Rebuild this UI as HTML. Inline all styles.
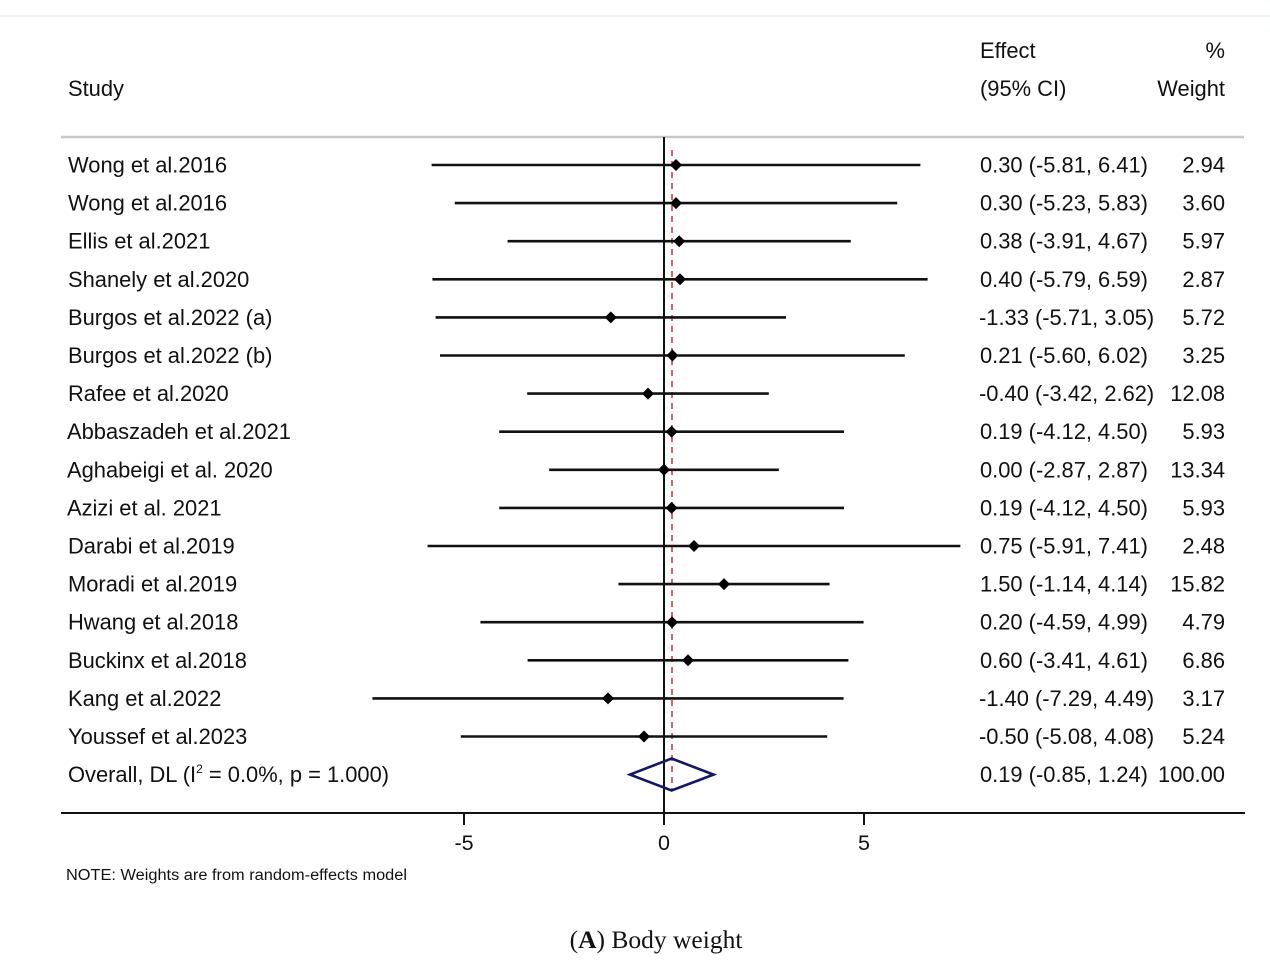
<!DOCTYPE html>
<html>
<head>
<meta charset="utf-8">
<style>
html,body{margin:0;padding:0;background:#fff;}
svg{display:block;}
text{font-family:"Liberation Sans",Arial,sans-serif;fill:#111;}
</style>
</head>
<body>
<svg width="1270" height="964" viewBox="0 0 1270 964" xmlns="http://www.w3.org/2000/svg">
<rect width="1270" height="964" fill="#fff"/>
<line x1="0" y1="16" x2="1270" y2="16" stroke="#e6f2f2" stroke-width="1.5"/>

<!-- headers -->
<g font-size="21.9">
<text x="68" y="96">Study</text>
<text x="980" y="58">Effect</text>
<text x="980" y="96">(95% CI)</text>
<text x="1225" y="58" text-anchor="end">%</text>
<text x="1225" y="96" text-anchor="end">Weight</text>
</g>

<line x1="61" y1="137" x2="1244" y2="137" stroke="#c8c8c8" stroke-width="2.5"/>

<!-- zero line -->
<line x1="664" y1="137" x2="664" y2="813" stroke="#111" stroke-width="2"/>
<!-- overall dashed -->
<line x1="672" y1="150" x2="672" y2="790" stroke="#c0404a" stroke-width="1.6" stroke-dasharray="6,5"/>

<!-- CI lines and markers -->
<g stroke="#111" stroke-width="2.6">
<line x1="431.6" y1="165" x2="920.4" y2="165"/>
<line x1="454.8" y1="203.1" x2="897.2" y2="203.1"/>
<line x1="507.6" y1="241.2" x2="850.8" y2="241.2"/>
<line x1="432.4" y1="279.3" x2="927.6" y2="279.3"/>
<line x1="435.6" y1="317.4" x2="786" y2="317.4"/>
<line x1="440" y1="355.5" x2="904.8" y2="355.5"/>
<line x1="527.2" y1="393.6" x2="768.8" y2="393.6"/>
<line x1="499.2" y1="431.7" x2="844" y2="431.7"/>
<line x1="549.2" y1="469.8" x2="778.8" y2="469.8"/>
<line x1="499.2" y1="507.9" x2="844" y2="507.9"/>
<line x1="427.6" y1="546" x2="960.4" y2="546"/>
<line x1="618.4" y1="584.1" x2="829.6" y2="584.1"/>
<line x1="480.4" y1="622.2" x2="863.6" y2="622.2"/>
<line x1="527.6" y1="660.3" x2="848.4" y2="660.3"/>
<line x1="372.4" y1="698.4" x2="843.6" y2="698.4"/>
<line x1="460.8" y1="736.5" x2="827.2" y2="736.5"/>
</g>
<g fill="#000">
<polygon points="676,159 682,165 676,171 670,165"/>
<polygon points="676,197.1 682,203.1 676,209.1 670,203.1"/>
<polygon points="679.2,235.2 685.2,241.2 679.2,247.2 673.2,241.2"/>
<polygon points="680,273.3 686,279.3 680,285.3 674,279.3"/>
<polygon points="610.8,311.4 616.8,317.4 610.8,323.4 604.8,317.4"/>
<polygon points="672.4,349.5 678.4,355.5 672.4,361.5 666.4,355.5"/>
<polygon points="648,387.6 654,393.6 648,399.6 642,393.6"/>
<polygon points="671.6,425.7 677.6,431.7 671.6,437.7 665.6,431.7"/>
<polygon points="664,463.8 670,469.8 664,475.8 658,469.8"/>
<polygon points="671.6,501.9 677.6,507.9 671.6,513.9 665.6,507.9"/>
<polygon points="694,540 700,546 694,552 688,546"/>
<polygon points="724,578.1 730,584.1 724,590.1 718,584.1"/>
<polygon points="672,616.2 678,622.2 672,628.2 666,622.2"/>
<polygon points="688,654.3 694,660.3 688,666.3 682,660.3"/>
<polygon points="608,692.4 614,698.4 608,704.4 602,698.4"/>
<polygon points="644,730.5 650,736.5 644,742.5 638,736.5"/>
</g>

<!-- overall diamond -->
<polygon points="630,774.6 671.6,758.5 713.6,774.6 671.6,790.5" fill="none" stroke="#14146e" stroke-width="2.6" stroke-linejoin="miter"/>

<!-- axis -->
<line x1="61" y1="813" x2="1245" y2="813" stroke="#111" stroke-width="2"/>
<g stroke="#111" stroke-width="2">
<line x1="464" y1="813" x2="464" y2="825"/>
<line x1="664" y1="813" x2="664" y2="825"/>
<line x1="864" y1="813" x2="864" y2="825"/>
</g>
<g font-size="21.5" text-anchor="middle">
<text x="464" y="850">-5</text>
<text x="664" y="850">0</text>
<text x="864" y="850">5</text>
</g>

<!-- study labels -->
<g font-size="21.9">
<text x="68" y="172.5">Wong et al.2016</text>
<text x="68" y="210.6">Wong et al.2016</text>
<text x="68" y="248.7">Ellis et al.2021</text>
<text x="68" y="286.8">Shanely et al.2020</text>
<text x="68" y="324.9">Burgos et al.2022 (a)</text>
<text x="68" y="363">Burgos et al.2022 (b)</text>
<text x="68" y="401.1">Rafee et al.2020</text>
<text x="67" y="439.2">Abbaszadeh et al.2021</text>
<text x="67" y="477.3">Aghabeigi et al. 2020</text>
<text x="67" y="515.4">Azizi et al. 2021</text>
<text x="68" y="553.5">Darabi et al.2019</text>
<text x="68" y="591.6">Moradi et al.2019</text>
<text x="68" y="629.7">Hwang et al.2018</text>
<text x="68" y="667.8">Buckinx et al.2018</text>
<text x="68" y="705.9">Kang et al.2022</text>
<text x="68" y="744">Youssef et al.2023</text>
<text x="68" y="782.1">Overall, DL (I<tspan font-size="12" dy="-9">2</tspan><tspan dy="9"> = 0.0%, p = 1.000)</tspan></text>
</g>

<!-- effect column -->
<g font-size="21.9">
<text x="980" y="172.5">0.30 (-5.81, 6.41)</text>
<text x="980" y="210.6">0.30 (-5.23, 5.83)</text>
<text x="980" y="248.7">0.38 (-3.91, 4.67)</text>
<text x="980" y="286.8">0.40 (-5.79, 6.59)</text>
<text x="979" y="324.9">-1.33 (-5.71, 3.05)</text>
<text x="980" y="363">0.21 (-5.60, 6.02)</text>
<text x="979" y="401.1">-0.40 (-3.42, 2.62)</text>
<text x="980" y="439.2">0.19 (-4.12, 4.50)</text>
<text x="980" y="477.3">0.00 (-2.87, 2.87)</text>
<text x="980" y="515.4">0.19 (-4.12, 4.50)</text>
<text x="980" y="553.5">0.75 (-5.91, 7.41)</text>
<text x="980" y="591.6">1.50 (-1.14, 4.14)</text>
<text x="980" y="629.7">0.20 (-4.59, 4.99)</text>
<text x="980" y="667.8">0.60 (-3.41, 4.61)</text>
<text x="979" y="705.9">-1.40 (-7.29, 4.49)</text>
<text x="979" y="744">-0.50 (-5.08, 4.08)</text>
<text x="980" y="782.1">0.19 (-0.85, 1.24)</text>
</g>

<!-- weight column -->
<g font-size="21.9" text-anchor="end">
<text x="1225" y="172.5">2.94</text>
<text x="1225" y="210.6">3.60</text>
<text x="1225" y="248.7">5.97</text>
<text x="1225" y="286.8">2.87</text>
<text x="1225" y="324.9">5.72</text>
<text x="1225" y="363">3.25</text>
<text x="1225" y="401.1">12.08</text>
<text x="1225" y="439.2">5.93</text>
<text x="1225" y="477.3">13.34</text>
<text x="1225" y="515.4">5.93</text>
<text x="1225" y="553.5">2.48</text>
<text x="1225" y="591.6">15.82</text>
<text x="1225" y="629.7">4.79</text>
<text x="1225" y="667.8">6.86</text>
<text x="1225" y="705.9">3.17</text>
<text x="1225" y="744">5.24</text>
<text x="1225" y="782.1">100.00</text>
</g>

<text x="66" y="880" font-size="15.5" textLength="341" lengthAdjust="spacingAndGlyphs">NOTE: Weights are from random-effects model</text>

<text x="656" y="948" text-anchor="middle" font-size="25.5" style="font-family:'Liberation Serif','Times New Roman',serif">(<tspan font-weight="bold">A</tspan>) Body weight</text>
</svg>
</body>
</html>
